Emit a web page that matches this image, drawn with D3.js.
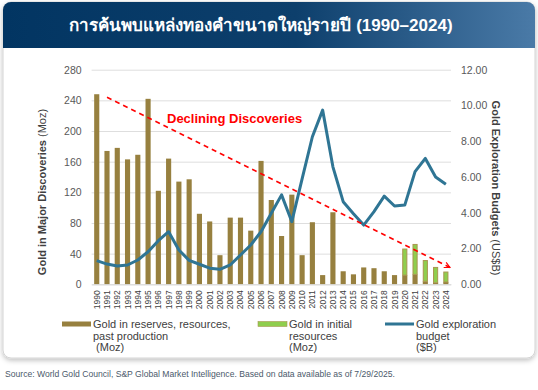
<!DOCTYPE html>
<html>
<head>
<meta charset="utf-8">
<script src="https://cdn.jsdelivr.net/npm/d3@7"></script>
<style>
  html, body { margin: 0; padding: 0; background: #ffffff; }
  svg { display: block; font-family: "Liberation Sans", Arial, sans-serif; }
</style>
</head>
<body>
<div id="view"></div>
<script>
// data
const years = d3.range(1990, 2025).map(String);
const reserves = [248, 174, 178, 163, 169, 242, 122, 164, 134, 137,
                  92, 82, 38, 87, 87, 70, 161, 110, 63, 117,
                  38, 81, 12, 94, 17, 13, 22, 21, 17, 12,
                  12, 13, 4, 2, 3];
const initialRes = [0, 0, 0, 0, 0, 0, 0, 0, 0, 0,
                    0, 0, 0, 0, 0, 0, 0, 0, 0, 0,
                    0, 0, 0, 0, 0, 0, 0, 0, 0, 0,
                    34, 39, 27, 20, 13];
const budget = [1.32, 1.13, 1.02, 1.08, 1.36, 1.82, 2.44, 2.94, 1.92, 1.34,
                1.12, 0.90, 0.84, 1.08, 1.64, 2.20, 2.94, 3.97, 5.00, 3.50,
                5.90, 8.25, 9.74, 6.57, 4.62, 3.95, 3.31, 4.06, 4.93, 4.38,
                4.43, 6.30, 7.04, 6.00, 5.60];
const leftTicks = [0, 40, 80, 120, 160, 200, 240, 280];
const rightTicks = [0, 2, 4, 6, 8, 10, 12];
const trendFrom = { year: "1991", value: 244 };
const trendTo = { year: "2024", value: 22 };

const W = 538, H = 390;
const brown = "#97803f", green = "#8fce4d", teal = "#2f7594";

const svg = d3.select("#view").append("svg")
  .attr("width", W).attr("height", H);

const defs = svg.append("defs");
const grad = defs.append("linearGradient").attr("id", "hdr")
  .attr("x1", 0).attr("x2", 1).attr("y1", 0).attr("y2", 0);
grad.append("stop").attr("offset", "0%").attr("stop-color", "#023562");
grad.append("stop").attr("offset", "55%").attr("stop-color", "#0d3f6c");
grad.append("stop").attr("offset", "100%").attr("stop-color", "#4a7aa7");
const sh = defs.append("filter").attr("id", "shadow")
  .attr("x", "-5%").attr("y", "-5%").attr("width", "110%").attr("height", "115%");
sh.append("feDropShadow").attr("dx", 0).attr("dy", 2).attr("stdDeviation", 2.5)
  .attr("flood-color", "#000").attr("flood-opacity", 0.25);

const marker = defs.append("marker").attr("id", "arrow")
  .attr("viewBox", "0 0 10 10").attr("refX", 9).attr("refY", 5)
  .attr("markerWidth", 7).attr("markerHeight", 7)
  .attr("markerUnits", "userSpaceOnUse").attr("orient", "auto");
marker.append("path").attr("d", "M1,1 L9,5 L1,9")
  .attr("fill", "none").attr("stroke", "#ff0000").attr("stroke-width", 1.6);

// card + header
svg.append("rect").attr("x", 3).attr("y", 2).attr("width", 532).attr("height", 356)
  .attr("rx", 8).attr("fill", "#fff").attr("stroke", "#d4d4d4").attr("filter", "url(#shadow)");
svg.append("path")
  .attr("d", "M3,48 V10 A8,8 0 0 1 11,2 H527 A8,8 0 0 1 535,10 V48 Z")
  .attr("fill", "url(#hdr)");
svg.append("text").attr("x", 261).attr("y", 31)
  .attr("text-anchor", "middle").attr("fill", "#fff")
  .attr("font-size", 17).attr("font-weight", "bold")
  .text("การค้นพบแหล่งทองคำขนาดใหญ่รายปี (1990–2024)");

// scales
const x = d3.scaleBand().domain(years).range([91.6, 451]).paddingInner(0.5).paddingOuter(0.25);
const y = d3.scaleLinear().domain([0, 280]).range([284.3, 69.7]);
const y2 = d3.scaleLinear().domain([0, 12]).range([284.3, 69.7]);

// grid
const grid = svg.append("g").attr("transform", "translate(91.6,0)")
  .call(d3.axisLeft(y).tickValues(leftTicks).tickSize(-(451 - 91.6)).tickFormat(""));
grid.select(".domain").remove();
grid.selectAll("line").attr("stroke", "#dedede").attr("stroke-width", 1);

// bars
const rows = years.map((yr, i) => ({ year: yr, res: reserves[i], init: initialRes[i] }));
svg.append("g").selectAll("rect.res").data(rows).enter().append("rect")
  .attr("x", d => x(d.year)).attr("width", x.bandwidth())
  .attr("y", d => y(d.res)).attr("height", d => y(0) - y(d.res))
  .attr("fill", brown);
svg.append("g").selectAll("rect.init").data(rows.filter(d => d.init > 0)).enter().append("rect")
  .attr("x", d => x(d.year) + 0.5).attr("width", x.bandwidth() - 1)
  .attr("y", d => y(d.res + d.init)).attr("height", d => y(d.res) - y(d.res + d.init))
  .attr("fill", green).attr("stroke", "#a99650").attr("stroke-width", 1);

// budget line
const line = d3.line()
  .x((d, i) => x(years[i]) + x.bandwidth() / 2)
  .y(d => y2(d));
svg.append("path").datum(budget).attr("d", line)
  .attr("fill", "none").attr("stroke", teal).attr("stroke-width", 3)
  .attr("stroke-linejoin", "round");

// trend arrow
svg.append("line")
  .attr("x1", x(trendFrom.year) + x.bandwidth() / 2).attr("y1", y(trendFrom.value))
  .attr("x2", x(trendTo.year) + x.bandwidth() + 1.5).attr("y2", y(trendTo.value))
  .attr("stroke", "#ff0000").attr("stroke-width", 1.6).attr("stroke-dasharray", "5,4")
  .attr("marker-end", "url(#arrow)");
svg.append("text").attr("x", 167).attr("y", 123)
  .attr("fill", "#ff0000").attr("font-size", 13).attr("font-weight", "bold")
  .text("Declining Discoveries");

// axes
const yAxis = svg.append("g").attr("transform", "translate(91.6,0)")
  .call(d3.axisLeft(y).tickValues(leftTicks).tickSize(0).tickPadding(10));
const y2Axis = svg.append("g").attr("transform", "translate(451,0)")
  .call(d3.axisRight(y2).tickValues(rightTicks).tickSize(0).tickPadding(10).tickFormat(d3.format(".2f")));
[yAxis, y2Axis].forEach(g => {
  g.select(".domain").remove();
  g.selectAll("text").attr("font-size", 10.5).attr("fill", "#595959")
    .attr("font-family", "Liberation Sans, Arial, sans-serif");
});

const xAxis = svg.append("g").attr("transform", "translate(0,284.3)")
  .call(d3.axisBottom(x).tickSize(0));
xAxis.select(".domain").attr("stroke", "#d9d9d9");
xAxis.selectAll("text")
  .attr("transform", "rotate(-90)")
  .attr("x", -6).attr("y", 0).attr("dy", "0.35em")
  .attr("text-anchor", "end")
  .attr("font-size", 8.5).attr("fill", "#404040")
  .attr("font-family", "Liberation Sans, Arial, sans-serif");

// axis titles
const lt = svg.append("text").attr("transform", "translate(46,192) rotate(-90)")
  .attr("text-anchor", "middle").attr("font-size", 11).attr("fill", "#404040");
lt.append("tspan").attr("font-weight", "bold").text("Gold in Major Discoveries ");
lt.append("tspan").text("(Moz)");
const rt = svg.append("text").attr("transform", "translate(492,188) rotate(90)")
  .attr("text-anchor", "middle").attr("font-size", 11).attr("fill", "#404040");
rt.append("tspan").attr("font-weight", "bold").text("Gold Exploration Budgets ");
rt.append("tspan").text("(US$B)");

// legend
const legend = [
  { x: 62, kind: "bar", color: brown, lines: ["Gold in reserves, resources,", "past production", " (Moz)"] },
  { x: 258, kind: "bar", color: green, lines: ["Gold in initial", "resources", "(Moz)"] },
  { x: 385, kind: "line", color: teal, lines: ["Gold exploration", "budget", "($B)"] }
];
const lg = svg.append("g").selectAll("g").data(legend).enter().append("g")
  .attr("transform", d => `translate(${d.x},324)`);
lg.append("rect")
  .attr("x", 0).attr("width", 29)
  .attr("y", d => d.kind === "bar" ? -2.5 : -1.5)
  .attr("height", d => d.kind === "bar" ? 5 : 3)
  .attr("fill", d => d.color)
  .attr("stroke", d => d.kind === "bar" && d.color === green ? "#a99650" : "none")
  .attr("stroke-width", 0.6);
lg.append("text").attr("x", 31).attr("y", 4)
  .attr("font-size", 11).attr("fill", "#404040")
  .selectAll("tspan").data(d => d.lines).enter().append("tspan")
  .attr("x", 31).attr("dy", (d, i) => i === 0 ? 0 : 11.7)
  .attr("xml:space", "preserve")
  .text(d => d);

// source
svg.append("text").attr("x", 5).attr("y", 376.5)
  .attr("font-size", 8.6).attr("fill", "#4b5a6b")
  .text("Source: World Gold Council, S&P Global Market Intelligence. Based on data available as of 7/29/2025.");
</script>
</body>
</html>
